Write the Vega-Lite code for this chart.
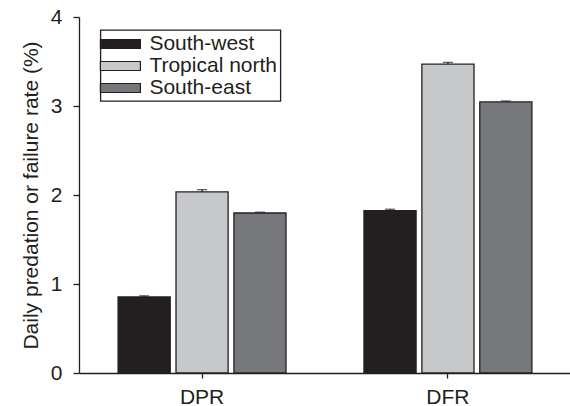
{
  "$schema": "https://vega.github.io/schema/vega-lite/v6.json",
  "width": 492,
  "height": 356,
  "autosize": {"type": "none"},
  "padding": {"left": 79, "top": 17, "right": 0, "bottom": 33},
  "background": "white",
  "config": {
    "font": "Liberation Sans",
    "view": {"stroke": null},
    "legend": {"strokeWidth": 1.3},
    "axis": {"grid": false, "domainColor": "#231f20", "domainWidth": 1.3, "tickColor": "#231f20", "tickWidth": 1.3, "labelColor": "#231f20", "titleColor": "#231f20", "labelFont": "Liberation Sans", "titleFont": "Liberation Sans", "labelFontSize": 21, "titleFontSize": 21, "titleFontWeight": "normal"}
  },
  "data": {
    "values": [
      {"group": "DPR", "region": "South-west", "value": 0.855, "upper": 0.867},
      {"group": "DPR", "region": "Tropical north", "value": 2.035, "upper": 2.06},
      {"group": "DPR", "region": "South-east", "value": 1.798, "upper": 1.807},
      {"group": "DFR", "region": "South-west", "value": 1.825, "upper": 1.84},
      {"group": "DFR", "region": "Tropical north", "value": 3.47, "upper": 3.49},
      {"group": "DFR", "region": "South-east", "value": 3.046, "upper": 3.056}
    ]
  },
  "encoding": {
    "x": {
      "field": "group", "type": "nominal", "sort": ["DPR", "DFR"],
      "scale": {"paddingInner": 0.317, "paddingOuter": 0.159},
      "axis": {"title": null, "labelAngle": 0, "tickSize": 5, "labelPadding": 8}
    },
    "xOffset": {
      "field": "region", "type": "nominal", "sort": ["South-west", "Tropical north", "South-east"],
      "scale": {"paddingInner": 0.1, "paddingOuter": 0}
    }
  },
  "layer": [
    {
      "mark": {"type": "bar", "stroke": "#231f20", "strokeWidth": 1.3},
      "encoding": {
        "y": {
          "field": "value", "type": "quantitative",
          "scale": {"domain": [0, 4], "nice": false},
          "axis": {"title": "Daily predation or failure rate (%)", "values": [0, 1, 2, 3, 4], "format": "d", "tickSize": 6, "labelPadding": 11, "titlePadding": 9}
        },
        "fill": {
          "field": "region", "type": "nominal", "sort": ["South-west", "Tropical north", "South-east"],
          "scale": {"domain": ["South-west", "Tropical north", "South-east"], "range": ["#231f20", "#c7c8ca", "#77787b"]},
          "legend": {
            "title": null, "orient": "none", "legendX": 21.4, "legendY": 13,
            "strokeColor": "#231f20", "fillColor": "white",
            "padding": 3, "rowPadding": 1,
            "labelFontSize": 21, "labelFont": "Liberation Sans", "labelColor": "#231f20", "labelLimit": 300,
            "symbolType": "M-2,-0.45H2V0.45H-2Z", "symbolSize": 400,
            "symbolStrokeColor": "#231f20", "symbolStrokeWidth": 1.2,
            "symbolOffset": 6, "labelOffset": 18
          }
        }
      }
    },
    {
      "mark": {"type": "rule", "color": "#231f20", "strokeWidth": 1.3},
      "encoding": {
        "y": {"field": "value", "type": "quantitative"},
        "y2": {"field": "upper"}
      }
    },
    {
      "mark": {"type": "tick", "color": "#231f20", "thickness": 1.3, "size": 10},
      "encoding": {
        "y": {"field": "upper", "type": "quantitative"}
      }
    }
  ]
}
